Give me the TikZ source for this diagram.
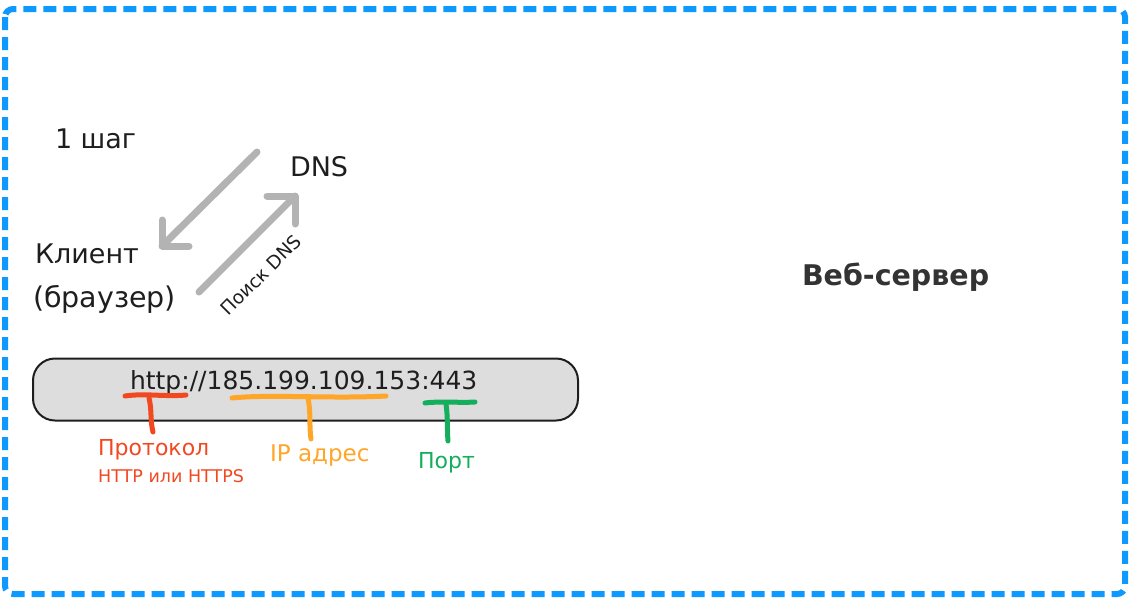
\documentclass[tikz,border=0pt]{standalone}
\usepackage{fontspec}
\setmainfont{DejaVu Sans}
\definecolor{figblue}{HTML}{0D99FF}
\definecolor{arrgray}{HTML}{B3B3B3}
\definecolor{txtdark}{HTML}{1E1E1E}
\definecolor{boxfill}{HTML}{DDDDDD}
\definecolor{protored}{HTML}{F24822}
\definecolor{iporange}{HTML}{FFA629}
\definecolor{portgreen}{HTML}{14AE5C}
\begin{document}
\begin{tikzpicture}[x=1pt,y=-1pt,
  lbl/.style={inner sep=0pt,outer sep=0pt,anchor=base west,text=txtdark,font=\fontsize{27}{32}\selectfont},
  mid/.style={inner sep=0pt,anchor=base west,font=\fontsize{22}{26}\selectfont},
  grayarrow/.style={draw=arrgray,line width=7pt,line cap=round,line join=round},
  hand/.style={line width=5pt,line cap=round,line join=round}]
\useasboundingbox (0,0) rectangle (1133,603);
\draw[figblue,line width=6pt,dash pattern=on 13pt off 7pt,rounded corners=8pt] (5,9) rectangle (1125,594);

\node[lbl] (step) at (55,148) {1 шаг};
\node[lbl] (dns) at (290,176) {DNS};
\node[lbl] (client) at (35,263) {Клиент};
\node[lbl,font=\fontsize{28.5}{33}\selectfont] (browser) at (33,307) {(браузер)};
\node[lbl,font=\bfseries\fontsize{28.5}{34}\selectfont,text=black!80] (server) at (802,285) {Веб-сервер};

% arrows
\coordinate (a1s) at (257,152);
\coordinate (a1e) at (162,246);
\draw[grayarrow] (a1s) -- (a1e);
\draw[grayarrow] ([yshift=26pt]a1e) -- (a1e) -- ([xshift=27pt]a1e);
\coordinate (a2s) at (199,292);
\coordinate (a2e) at (295,196);
\draw[grayarrow] (a2s) -- (a2e);
\draw[grayarrow] ([xshift=-28pt]a2e) -- (a2e) -- ([yshift=-28pt]a2e);
\node[inner sep=0pt,rotate=45,font=\fontsize{18.5}{21}\selectfont,text=txtdark] (lookup) at (261,275) {Поиск DNS};

% url box
\node[draw=txtdark,line width=2pt,fill=boxfill,rounded corners=22pt,minimum width=545pt,minimum height=62pt,inner sep=0pt] (urlbox) at (305.5,389.5) {};
\node[lbl,font=\fontsize{25}{30}\selectfont] (url) at (130,389) {http://185.199.109.153:443};

% hand marks
\draw[hand,protored] (125,396) .. controls (145,393) and (165,397) .. (186,395);
\draw[hand,protored] (149,398) .. controls (152,410) and (150,420) .. (153,432);
\draw[hand,iporange] (232,398) .. controls (270,394) and (330,399) .. (386,396);
\draw[hand,iporange] (308,398) .. controls (311,412) and (309,426) .. (311,439);
\draw[hand,portgreen] (425,403) .. controls (440,401) and (460,403) .. (475,402);
\draw[hand,portgreen] (446,404) .. controls (448,418) and (447,430) .. (448,441);

\node[mid,text=protored,font=\fontsize{22}{26}\selectfont] (proto) at (98,455) {Протокол};
\node[inner sep=0pt,anchor=base west,text=protored,font=\fontsize{17.5}{21}\selectfont] (protosub) at (98,482) {HTTP или HTTPS};
\node[mid,text=iporange,font=\fontsize{23}{27}\selectfont] (ip) at (270,461) {IP адрес};
\node[mid,text=portgreen] (port) at (418,468) {Порт};
\end{tikzpicture}
\end{document}
